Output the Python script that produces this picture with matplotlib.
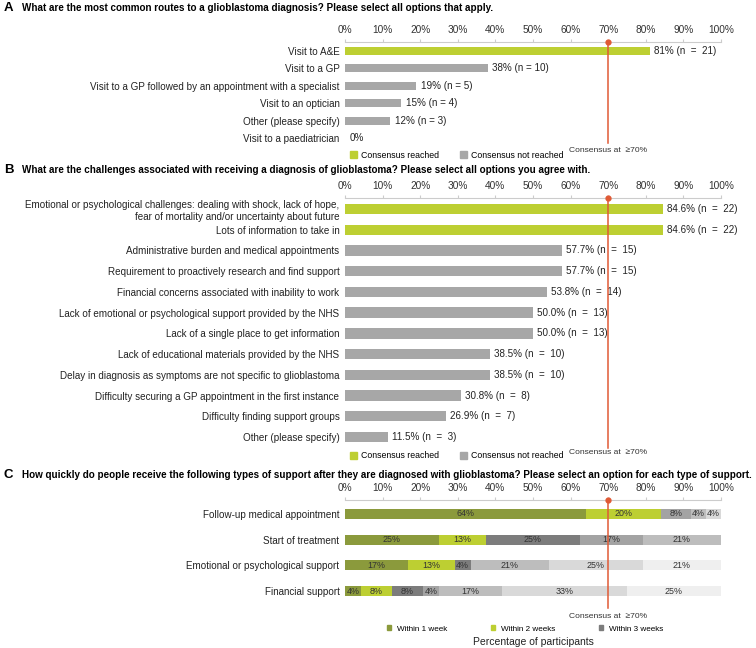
import matplotlib
matplotlib.use("Agg")
import matplotlib.pyplot as plt
from matplotlib.patches import Patch
import numpy as np

plt.rcParams['font.family'] = ['Liberation Sans', 'DejaVu Sans']

# panel A data
routes = ["Visit to A&E", "Visit to a GP",
          "Visit to a GP followed by an appointment with a specialist",
          "Visit to an optician", "Other (please specify)", "Visit to a paediatrician"]
routes_pct = [81, 38, 19, 15, 12, 0]
routes_n = [21, 10, 5, 4, 3, 0]

# panel B data
challenges = ["Emotional or psychological challenges: dealing with shock, lack of hope,\nfear of mortality and/or uncertainty about future",
              "Lots of information to take in",
              "Administrative burden and medical appointments",
              "Requirement to proactively research and find support",
              "Financial concerns associated with inability to work",
              "Lack of emotional or psychological support provided by the NHS",
              "Lack of a single place to get information",
              "Lack of educational materials provided by the NHS",
              "Delay in diagnosis as symptoms are not specific to glioblastoma",
              "Difficulty securing a GP appointment in the first instance",
              "Difficulty finding support groups",
              "Other (please specify)"]
challenges_pct = [84.6, 84.6, 57.7, 57.7, 53.8, 50.0, 50.0, 38.5, 38.5, 30.8, 26.9, 11.5]
challenges_n = [22, 22, 15, 15, 14, 13, 13, 10, 10, 8, 7, 3]

# panel C data (segment widths, labels are rounded)
support = ["Follow-up medical appointment", "Start of treatment",
           "Emotional or psychological support", "Financial support"]
timing_labels = ["Within 1 week", "Within 2 weeks", "Within 3 weeks"]
within_1wk = [64, 25, 16.7, 4.2]
within_2wk = [20, 12.5, 12.5, 8.3]
within_3wk = [0, 25, 4.2, 8.3]
band_4 = [8, 16.7, 0, 4.2]
band_5 = [4, 20.8, 20.8, 16.7]
band_6 = [4, 0, 25, 33.3]
band_7 = [0, 0, 20.8, 25]

consensus = 70

LIME = "#bdcf32"
GREY = "#a7a7a7"
OLIVE = "#8b9a3c"
RED = "#e05a35"
seg_colors = [OLIVE, LIME, "#7c7c7c", "#a3a3a3", "#bdbdbd", "#d9d9d9", "#efefef"]

W, H = 756, 648
fig = plt.figure(figsize=(W / 100, H / 100), dpi=100)

X0, X1 = 345, 721


def make_ax(ytop, ybot):
    return fig.add_axes([X0 / W, 1 - ybot / H, (X1 - X0) / W, (ybot - ytop) / H])


def style(ax):
    ax.set_xlim(0, 100)
    ax.set_xticks(np.arange(0, 101, 10))
    ax.set_xticklabels([f"{t}%" for t in range(0, 101, 10)])
    ax.xaxis.tick_top()
    ax.tick_params(axis='x', top=True, length=2, color="#cccccc", labelsize=7.3,
                   labelcolor="#333333", pad=3)
    ax.tick_params(axis='y', length=0, labelsize=7.1, labelcolor="#222222", pad=4)
    for s in ["right", "bottom", "left"]:
        ax.spines[s].set_visible(False)
    ax.spines["top"].set_color("#cccccc")
    ax.spines["top"].set_linewidth(0.8)


def consensus_line(ax, ypx_text):
    ax.axvline(consensus, color=RED, lw=1.1, clip_on=False, zorder=5)
    top = ax.get_ylim()[1]
    ax.plot([consensus], [top], "o", color=RED, ms=3.5, clip_on=False, zorder=6)
    fig.text((X0 + consensus / 100 * (X1 - X0)) / W, 1 - ypx_text / H,
             "Consensus at  \u226570%", ha="center", va="center", fontsize=6.1, color="#333333")


def cons_legend(ax, ypx):
    handles = [Patch(color=LIME), Patch(color=GREY)]
    ax.legend(handles, ["Consensus reached", "Consensus not reached"], ncol=2,
              loc="center left", bbox_to_anchor=(350 / W, 1 - ypx / H),
              bbox_transform=fig.transFigure, frameon=False, fontsize=6.3,
              handlelength=0.8, handleheight=0.8, handletextpad=0.5,
              columnspacing=2.3, borderpad=0, borderaxespad=0)


def panel_title(ypx, letter, text):
    fig.text(4 / W, 1 - ypx / H, letter, fontsize=9.5, weight="bold", va="center")
    fig.text(22 / W, 1 - ypx / H, text, fontsize=7.1, weight="bold", va="center")


def set_rows(ax, n, ytop, yfirst, ylast, ybot):
    sp = (ylast - yfirst) / (n - 1)
    ax.set_ylim(n - 1 + (ybot - ylast) / sp, -(yfirst - ytop) / sp)


# ---- Panel A
panel_title(8, "A", "What are the most common routes to a glioblastoma diagnosis? Please select all options that apply.")
axA = make_ax(42, 143)
set_rows(axA, len(routes), 42, 51, 138, 143)
yA = np.arange(len(routes))
colA = [LIME if p >= consensus else GREY for p in routes_pct]
axA.barh(yA, routes_pct, height=0.47, color=colA)
for y, p, n in zip(yA, routes_pct, routes_n):
    if n == 0:
        lab = f"{p}%"
    elif p >= consensus:
        lab = f"{p}% (n  =  {n})"
    else:
        lab = f"{p}% (n = {n})"
    axA.text(p + 1.2, y, lab, va="center", fontsize=7.1, color="#222222")
axA.set_yticks(yA)
axA.set_yticklabels(routes)
style(axA)
consensus_line(axA, 150)
cons_legend(axA, 155)

# ---- Panel B
panel_title(170, "B", "What are the challenges associated with receiving a diagnosis of glioblastoma? Please select all options you agree with.")
axB = make_ax(198, 448)
set_rows(axB, len(challenges), 198, 209, 437, 448)
yB = np.arange(len(challenges))
colB = [LIME if p >= consensus else GREY for p in challenges_pct]
axB.barh(yB, challenges_pct, height=0.5, color=colB)
for y, p, n in zip(yB, challenges_pct, challenges_n):
    axB.text(p + 1.0, y, f"{p:.1f}% (n  =  {n})", va="center", fontsize=7.1, color="#222222")
axB.set_yticks(yB)
axB.set_yticklabels(challenges)
style(axB)
consensus_line(axB, 452)
cons_legend(axB, 456)

# ---- Panel C
panel_title(475, "C", "How quickly do people receive the following types of support after they are diagnosed with glioblastoma? Please select an option for each type of support.")
axC = make_ax(500, 608)
set_rows(axC, len(support), 500, 514, 591, 608)
yC = np.arange(len(support))
bands = [within_1wk, within_2wk, within_3wk, band_4, band_5, band_6, band_7]
left = np.zeros(len(support))
for vals, c in zip(bands, seg_colors):
    vals = np.array(vals, dtype=float)
    axC.barh(yC, vals, left=left, height=0.4, color=c)
    for y, l, v in zip(yC, left, vals):
        if v > 0:
            axC.text(l + v / 2, y, f"{int(v + 0.5)}%", ha="center", va="center",
                     fontsize=6.4, color="#333333")
    left += vals
axC.set_yticks(yC)
axC.set_yticklabels(support)
style(axC)
consensus_line(axC, 616)
handles = [Patch(color=c) for c in seg_colors[:3]]
axC.legend(handles, timing_labels, ncol=3, loc="center left",
           bbox_to_anchor=(387 / W, 1 - 629 / H), bbox_transform=fig.transFigure,
           frameon=False, fontsize=5.9, handlelength=0.45, handleheight=0.45,
           handletextpad=0.8, columnspacing=5.3, borderpad=0, borderaxespad=0)
fig.text((X0 + X1) / 2 / W, 1 - 642 / H, "Percentage of participants",
         ha="center", va="center", fontsize=7.5, color="#222222")

fig.savefig("out.png", dpi=100)
